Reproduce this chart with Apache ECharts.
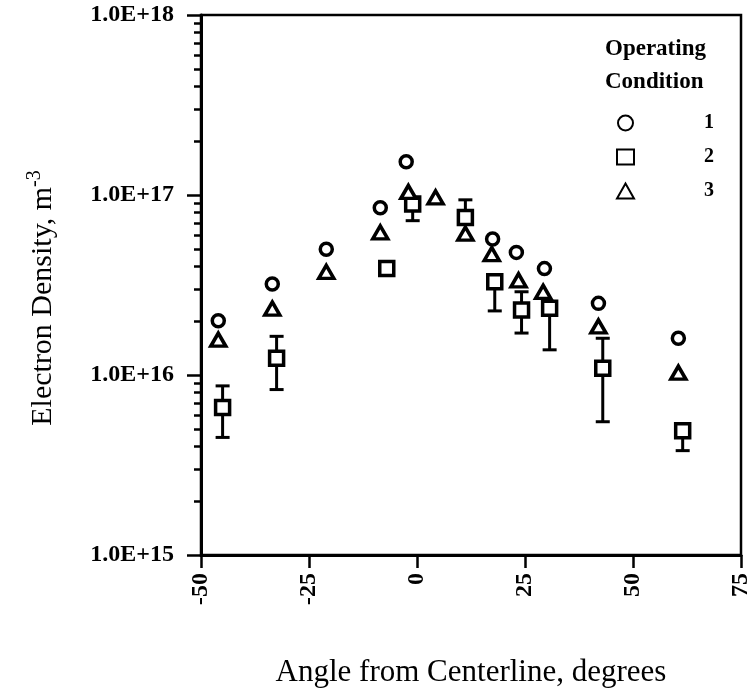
<!DOCTYPE html>
<html>
<head>
<meta charset="utf-8">
<script src="https://cdn.jsdelivr.net/npm/echarts@6/dist/echarts.min.js"></script>
<style>
  html, body { margin: 0; padding: 0; background: #fff; }
  #chart { width: 752px; height: 690px; }
</style>
</head>
<body>
<div id="chart"></div>
<script>
// operating condition 1 (circles)
var cond1X = [-46, -33.5, -21, -8.5, -2.5, 17.5, 23, 29.5, 42, 60.5];
var cond1Y = [2.0e16, 3.2e16, 5.0e16, 8.5e16, 1.53e17, 5.7e16, 4.8e16, 3.9e16, 2.5e16, 1.6e16];
// operating condition 2 (squares) with error bars
var cond2X = [-45, -32.5, -7, -1, 11.2, 18, 24.2, 30.7, 43, 61.5];
var cond2Y = [6.6e15, 1.24e16, 3.9e16, 8.9e16, 7.5e16, 3.3e16, 2.3e16, 2.35e16, 1.09e16, 4.9e15];
var cond2Lo = [4.5e15, 8.3e15, null, 7.2e16, null, 2.27e16, 1.71e16, 1.38e16, 5.5e15, 3.8e15];
var cond2Hi = [8.7e15, 1.64e16, null, null, 9.4e16, null, 2.9e16, null, 1.6e16, null];
// operating condition 3 (triangles)
var cond3X = [-46, -33.5, -21, -8.5, -2, 4.3, 11.2, 17.3, 23.5, 29.2, 42, 60.5];
var cond3Y = [1.57e16, 2.34e16, 3.74e16, 6.2e16, 1.04e17, 9.7e16, 6.1e16, 4.7e16, 3.36e16, 2.9e16, 1.86e16, 1.03e16];

var xTicks = [-50, -25, 0, 25, 50, 75];
var decades = [1e15, 1e16, 1e17];
var minorMults = [2, 3, 4, 5, 6, 7, 8, 9];

var minorTicks = [];
decades.forEach(function (d) {
  minorMults.forEach(function (m) { minorTicks.push(d * m); });
});

function pairs(xs, ys) {
  return xs.map(function (x, i) { return [x, ys[i]]; });
}

var serif = 'Liberation Serif';
var myChart = echarts.init(document.getElementById('chart'));

var option = {
  animation: false,
  backgroundColor: '#fff',
  title: {
    text: 'Operating\nCondition',
    left: 600,
    top: 28,
    textStyle: { fontFamily: serif, fontSize: 23, fontWeight: 'bold', color: '#000', lineHeight: 33 }
  },
  legend: {
    data: ['1', '2', '3'],
    orient: 'vertical',
    left: 611,
    top: 108,
    itemWidth: 17,
    itemHeight: 15,
    itemGap: 14,
    textStyle: { fontFamily: serif, fontSize: 20, fontWeight: 'bold', color: '#000', padding: [0, 0, 0, 65] }
  },
  grid: {
    left: 201, right: 11, top: 15, bottom: 135,
    outerBoundsMode: 'none',
    show: true, borderColor: '#000', borderWidth: 2.5, backgroundColor: 'transparent'
  },
  xAxis: {
    type: 'value',
    min: -50, max: 75, interval: 25,
    name: 'Angle from Centerline, degrees',
    nameLocation: 'middle',
    nameGap: 102,
    nameTextStyle: { fontFamily: serif, fontSize: 31, color: '#000' },
    axisLine: { onZero: false, lineStyle: { color: '#000', width: 3 } },
    axisTick: { length: 13, lineStyle: { color: '#000', width: 2.5 } },
    axisLabel: {
      rotate: 90, margin: 18,
      fontFamily: serif, fontSize: 24, fontWeight: 'bold', color: '#000',
      customValues: xTicks
    },
    splitLine: { show: false }
  },
  yAxis: [{
    type: 'log',
    logBase: 10,
    min: 1e15, max: 1e18,
    name: '{a|Electron Density, m}{s|-3}',
    nameLocation: 'middle',
    nameGap: 140,
    nameTextStyle: {
      color: '#000',
      padding: [0, 26, 0, 0],
      rich: {
        a: { fontFamily: serif, fontSize: 30, lineHeight: 36, color: '#000' },
        s: { fontFamily: serif, fontSize: 20, verticalAlign: 'top', lineHeight: 36, padding: [0, 0, 14, 0], color: '#000' }
      }
    },
    axisLine: { onZero: false, lineStyle: { color: '#000', width: 3 } },
    axisTick: { length: 14, lineStyle: { color: '#000', width: 2.5 } },
    axisLabel: {
      margin: 27,
      fontFamily: serif, fontSize: 24, fontWeight: 'bold', color: '#000',
      formatter: function (v) { return '1.0E+' + Math.round(Math.log10(v)); }
    },
    splitLine: { show: false }
  }, {
    type: 'log',
    logBase: 10,
    min: 1e15, max: 1e18,
    position: 'left',
    axisLine: { show: false, onZero: false },
    axisLabel: { show: false },
    splitLine: { show: false },
    axisTick: { customValues: minorTicks, length: 7, lineStyle: { color: '#000', width: 2.5 } }
  }],
  series: [
    {
      name: 'err',
      type: 'custom',
      z: 1,
      data: pairs(cond2X, cond2Y),
      renderItem: function (params, api) {
        var i = params.dataIndex;
        var c = api.coord([api.value(0), api.value(1)]);
        var kids = [];
        var st = { stroke: '#000', lineWidth: 3 };
        [cond2Lo[i], cond2Hi[i]].forEach(function (e) {
          if (e == null) return;
          var p = api.coord([api.value(0), e]);
          kids.push({ type: 'line', shape: { x1: c[0], y1: c[1], x2: p[0], y2: p[1] }, style: st });
          kids.push({ type: 'line', shape: { x1: p[0] - 7, y1: p[1], x2: p[0] + 7, y2: p[1] }, style: st });
        });
        return { type: 'group', children: kids };
      }
    },
    {
      name: '1',
      type: 'scatter',
      z: 3,
      symbol: 'circle',
      symbolSize: 12,
      itemStyle: { color: '#fff', borderColor: '#000', borderWidth: 3.5, opacity: 1 },
      data: pairs(cond1X, cond1Y)
    },
    {
      name: '2',
      type: 'scatter',
      z: 3,
      symbol: 'rect',
      symbolSize: 14,
      itemStyle: { color: '#fff', borderColor: '#000', borderWidth: 3.5, opacity: 1 },
      data: pairs(cond2X, cond2Y)
    },
    {
      name: '3',
      type: 'scatter',
      z: 3,
      symbol: 'triangle',
      symbolSize: [15, 13],
      itemStyle: { color: '#fff', borderColor: '#000', borderWidth: 3.5, opacity: 1 },
      data: pairs(cond3X, cond3Y)
    }
  ]
};
myChart.setOption(option);
</script>
</body>
</html>
